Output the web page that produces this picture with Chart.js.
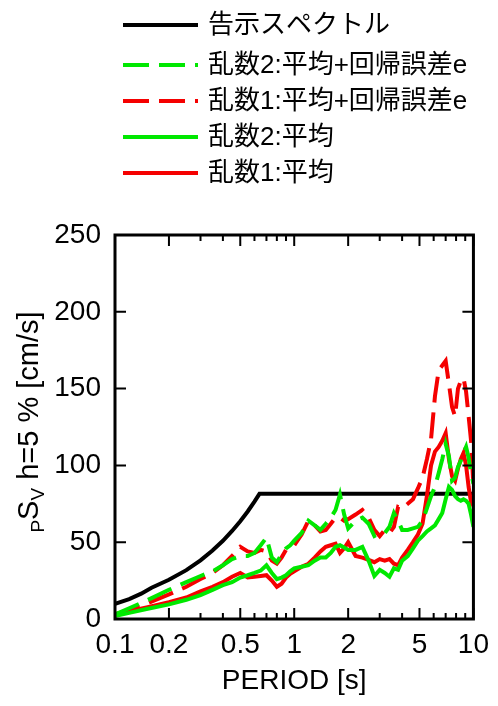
<!DOCTYPE html>
<html>
<head>
<meta charset="utf-8">
<script src="https://cdn.jsdelivr.net/npm/chart.js@4.4.1/dist/chart.umd.min.js"></script>
<style>
  body { margin: 0; background: #fff; }
</style>
</head>
<body>
<canvas id="specChart" width="498" height="706"></canvas>
<script>
const periods = [0.1, 0.12, 0.15, 0.2, 0.25, 0.3, 0.35, 0.4, 0.45, 0.5,
  0.55, 0.6, 0.65, 0.7, 0.75, 0.8, 0.85, 0.9, 0.95, 1.0,
  1.1, 1.2, 1.3, 1.4, 1.5, 1.6, 1.7, 1.8, 1.9, 2.0,
  2.2, 2.4, 2.6, 2.8, 3.0, 3.2, 3.4, 3.6, 3.8, 4.0,
  4.3, 4.6, 4.9, 5.2, 5.5, 5.8, 6.1, 6.4, 6.7, 7.0,
  7.3, 7.6, 7.9, 8.2, 8.5, 8.8, 9.1, 9.4, 9.7, 10];

const r1Mean = [3, 5, 7.5, 11, 14, 18, 21, 24, 27.5, 30,
  27, 27.5, 28, 28.5, 25, 21, 23, 27, 29.5, 31,
  34, 36, 40, 44, 47, 48, 49, 43, 46, 50,
  41, 40, 38.5, 37, 39, 38, 39, 36, 35, 40,
  45, 50, 55, 62, 80, 100, 109, 112, 116, 121,
  104, 93, 90, 98, 104, 108, 100, 86, 76, 80];

const r2Mean = [2, 4, 6.5, 9.5, 12.5, 15.5, 19, 22, 24, 27,
  28.5, 30, 31.5, 35, 30, 26, 27, 28.5, 31, 33,
  34, 35, 38, 40, 40, 43, 47, 48, 46.5, 45,
  45, 47, 38, 28, 32, 30, 27.5, 33, 32, 38,
  41, 46, 51, 54, 57, 59, 61, 65, 69, 78,
  86, 84, 80, 78, 77, 78, 77, 75, 68, 60];

const r1MeanE = [3, 6, 10, 16, 21, 26, 30, 35, 41, 47,
  44, 43, 45, 44, 38, 36, 40, 45, 47, 48,
  55, 64, 61, 57, 58, 62, 66, 66, 64, 65,
  68, 71, 66, 58, 54, 58, 56, 60, 73, 72,
  75, 78, 85, 92, 104, 117, 145, 162, 165, 168,
  153, 138, 132, 150, 155, 157, 148, 132, 116, 86];

const r2MeanE = [3, 7, 12, 19, 24, 28, 31, 35, 39, 41,
  41, 43, 48, 53, 40, 37, 42, 46, 48, 51,
  56, 64, 61, 58, 62, 66, 71, 81, 68, 59,
  64, 66, 62, 54, 56, 56, 60, 69, 64, 58,
  58, 59, 60, 64, 72, 80, 86, 95, 104, 114,
  106, 90, 92, 99, 103, 108, 112, 105, 95, 88];

// 告示スペクトル
const specPeriods = [0.1, 0.12, 0.14, 0.16, 0.2, 0.25, 0.3, 0.35, 0.4, 0.45, 0.5, 0.55, 0.6, 0.64, 10];
const specValues = [9.9, 13.0, 16.5, 20.4, 25.5, 31.8, 38.2, 44.6, 50.9, 57.3, 63.7, 70.0, 76.4, 81.5, 81.5];

const xTickLabels = [0.1, 0.2, 0.5, 1, 2, 5, 10];
const xMinorTicks = [0.3, 0.4, 0.6, 0.7, 0.8, 0.9, 3, 4, 6, 7, 8, 9];
const yTickValues = [50, 100, 150, 200];

const RED = "rgb(245,0,0)";
const GREEN = "rgb(0,232,0)";

function pts(xs, ys) {
  return xs.map((t, i) => ({ x: t, y: ys[i] }));
}

function series(label, xs, ys, color, dashed, order) {
  return {
    label: label,
    data: pts(xs, ys),
    borderColor: color,
    backgroundColor: color,
    borderWidth: 4,
    borderDash: dashed ? [26, 10] : [],
    pointRadius: 0,
    tension: 0,
    fill: false,
    order: order
  };
}

// frame and inward ticks on all four sides
const framePlugin = {
  id: "frame",
  afterDatasetsDraw(chart) {
    const { ctx, chartArea: a, scales } = chart;
    ctx.save();
    ctx.strokeStyle = "#000";
    ctx.lineWidth = 2;
    ctx.beginPath();
    xTickLabels.concat(xMinorTicks).forEach(v => {
      const px = scales.x.getPixelForValue(v);
      const len = xTickLabels.includes(v) ? 11 : 6;
      ctx.moveTo(px, a.bottom); ctx.lineTo(px, a.bottom - len);
      ctx.moveTo(px, a.top); ctx.lineTo(px, a.top + len);
    });
    yTickValues.forEach(v => {
      const py = scales.y.getPixelForValue(v);
      ctx.moveTo(a.left, py); ctx.lineTo(a.left + 11, py);
      ctx.moveTo(a.right, py); ctx.lineTo(a.right - 11, py);
    });
    ctx.stroke();
    ctx.lineWidth = 3;
    ctx.strokeRect(a.left, a.top, a.right - a.left, a.bottom - a.top);
    ctx.restore();
  }
};

// stacked legend at the top, in dataset order
const legendPlugin = {
  id: "stackLegend",
  afterDraw(chart) {
    const ctx = chart.ctx;
    ctx.save();
    ctx.font = "26px 'Liberation Sans', 'Noto Sans CJK JP'";
    ctx.textBaseline = "middle";
    ctx.fillStyle = "#000";
    chart.data.datasets.forEach((ds, i) => {
      const y = i === 0 ? 25 : 65 + (i - 1) * 36;
      ctx.strokeStyle = ds.borderColor;
      ctx.lineWidth = 4;
      ctx.setLineDash(ds.borderDash);
      ctx.beginPath();
      ctx.moveTo(123, y);
      ctx.lineTo(198, y);
      ctx.stroke();
      ctx.setLineDash([]);
      ctx.fillText(ds.label, 208, y + 1);
    });
    ctx.restore();
  }
};

// y title with subscripts: pSv h=5 % [cm/s]
const yTitlePlugin = {
  id: "yTitle",
  afterDraw(chart) {
    const ctx = chart.ctx;
    const a = chart.chartArea;
    const parts = [
      { t: "P", sub: true },
      { t: "S", sub: false },
      { t: "V", sub: true },
      { t: " h=5 % [cm/s]", sub: false }
    ];
    const big = "29px 'Liberation Sans'";
    const small = "19px 'Liberation Sans'";
    ctx.save();
    let total = 0;
    parts.forEach(p => {
      ctx.font = p.sub ? small : big;
      p.w = ctx.measureText(p.t).width;
      total += p.w;
    });
    ctx.translate(28, (a.top + a.bottom) / 2 - 5);
    ctx.rotate(-Math.PI / 2);
    ctx.fillStyle = "#000";
    ctx.textBaseline = "alphabetic";
    let x = -total / 2;
    parts.forEach(p => {
      ctx.font = p.sub ? small : big;
      ctx.fillText(p.t, x, p.sub ? 16 : 10);
      x += p.w;
    });
    ctx.restore();
  }
};

const ctx = document.getElementById("specChart").getContext("2d");

new Chart(ctx, {
  type: "line",
  data: {
    datasets: [
      series("告示スペクトル", specPeriods, specValues, "#000", false, 5),
      series("乱数2:平均+回帰誤差e", periods, r2MeanE, GREEN, true, 2),
      series("乱数1:平均+回帰誤差e", periods, r1MeanE, RED, true, 4),
      series("乱数2:平均", periods, r2Mean, GREEN, false, 1),
      series("乱数1:平均", periods, r1Mean, RED, false, 3)
    ]
  },
  options: {
    responsive: false,
    animation: false,
    layout: {
      padding: { top: 235, right: 18, bottom: 0, left: 0 }
    },
    scales: {
      x: {
        type: "logarithmic",
        min: 0.1,
        max: 10,
        grid: { display: false, drawTicks: false },
        border: { display: false },
        afterFit(scale) { scale.height = 87; },
        ticks: {
          autoSkip: false,
          maxRotation: 0,
          padding: 9,
          color: "#000",
          font: { family: "'Liberation Sans'", size: 28 },
          callback(value) {
            const hit = xTickLabels.find(v => Math.abs(v - value) < 1e-6);
            return hit === undefined ? "" : String(hit);
          }
        },
        title: {
          display: true,
          text: "PERIOD [s]",
          color: "#000",
          font: { family: "'Liberation Sans'", size: 28 },
          padding: { top: 0, bottom: 8 }
        }
      },
      y: {
        min: 0,
        max: 250,
        grid: { display: false, drawTicks: false },
        border: { display: false },
        afterFit(scale) { scale.width = 115; },
        ticks: {
          stepSize: 50,
          padding: 14,
          color: "#000",
          font: { family: "'Liberation Sans'", size: 28 }
        }
      }
    },
    plugins: {
      legend: { display: false },
      tooltip: { enabled: false }
    }
  },
  plugins: [framePlugin, legendPlugin, yTitlePlugin]
});
</script>
</body>
</html>
